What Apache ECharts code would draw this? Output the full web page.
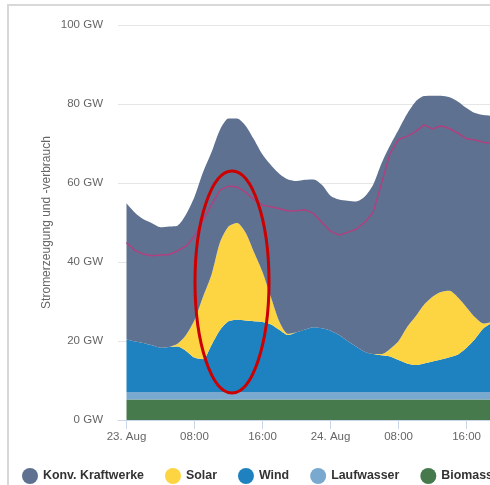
<!DOCTYPE html>
<html>
<head>
<meta charset="utf-8">
<script src="https://cdn.jsdelivr.net/npm/echarts@6/dist/echarts.min.js"></script>
<style>
html,body{margin:0;padding:0;background:#fff;}
#chart{width:490px;height:485px;}
</style>
</head>
<body>
<div id="chart"></div>
<script>
// hours since 23. Aug 00:00
var hours = [0,1,2,3,4,5,6,7,8,9,10,11,12,13,14,15,16,17,18,19,20,21,22,23,24,25,26,27,28,29,30,31,32,33,34,35,36,37,38,39,40,41,42,43];
var biomasse   = [5.2,5.2,5.2,5.2,5.2,5.2,5.2,5.2,5.2,5.2,5.2,5.2,5.2,5.2,5.2,5.2,5.2,5.2,5.2,5.2,5.2,5.2,5.2,5.2,5.2,5.2,5.2,5.2,5.2,5.2,5.2,5.2,5.2,5.2,5.2,5.2,5.2,5.2,5.2,5.2,5.2,5.2,5.2,5.2];
var laufwasser = [1.9,1.9,1.9,1.9,1.9,1.9,1.9,1.9,1.9,1.9,1.9,1.9,1.9,1.9,1.9,1.9,1.9,1.9,1.9,1.9,1.9,1.9,1.9,1.9,1.9,1.9,1.9,1.9,1.9,1.9,1.9,1.9,1.9,1.9,1.9,1.9,1.9,1.9,1.9,1.9,1.9,1.9,1.9,1.9];
var wind  = [13.3,12.8,12.4,11.8,11.2,11.4,11.5,10.4,8.7,8.3,11.9,15.7,17.9,18.3,18.1,17.9,17.7,17.1,15.7,14.4,15.1,15.8,16.4,16.1,15.5,14.4,12.9,11.5,10.2,9.6,9.3,9.0,8.1,7.2,6.8,7.2,7.7,8.2,8.8,9.5,11.2,13.4,16.1,17.5];
var solar = [0,0,0,0,0,0,0.7,4.0,9.5,15.8,17.8,22.2,24.0,24.5,22.3,17.5,12.7,6.8,2.0,0.3,0,0,0,0,0,0,0,0,0,0,0.3,1.9,4.8,9.2,12.3,14.9,16.4,17.1,16.8,14.4,10.2,5.5,1.2,0.2];
var konv  = [34.5,32.6,31.3,30.9,30.5,30.5,29.9,30.5,31.2,31.5,31.0,28.5,27.3,26.4,27.0,28.5,29.7,33.5,37.5,39.1,38.3,37.9,37.4,36.3,34.2,34.3,35.5,36.7,39.2,42.8,48.3,51.5,53.5,54.0,54.4,52.8,50.9,49.7,49.0,49.6,50.5,51.7,52.8,52.2];
var verbrauch = [44.9,42.9,42.0,41.6,41.8,41.9,42.8,44.0,46.5,50.5,54.5,58.2,59.2,59.0,57.7,55.8,54.4,54.0,53.5,52.9,53.0,53.2,52.3,50.0,47.8,46.8,47.5,48.3,50.0,52.5,59.9,67.5,71.0,71.8,73.0,74.7,73.7,74.5,73.8,72.6,71.2,70.9,70.3,70.0];
var tickHours  = [0,8,16,24,32,40];
var tickLabels = ['23. Aug','08:00','16:00','24. Aug','08:00','16:00'];
var yTicks = [0,20,40,60,80,100];

// value first, hour second (encode maps them), so stacking happens on the value
function pairs(arr){ return hours.map(function(h,i){ return [arr[i], h]; }); }

var font = "'Liberation Sans', Arial, sans-serif";
var chart = echarts.init(document.getElementById('chart'), null, {renderer:'canvas'});

function area(name, data, color){
  return {
    name: name, type: 'line', stack: 'gen', data: pairs(data),
    encode: {x: 1, y: 0},
    showSymbol: false, smooth: 0.25, symbol: 'none',
    lineStyle: {width: 0, color: color},
    itemStyle: {color: color},
    areaStyle: {color: color, opacity: 1},
    z: 2
  };
}

chart.setOption({
  animation: false,
  textStyle: {fontFamily: font},
  grid: {left: 118, right: 0, top: 25, bottom: 65, containLabel: false},
  legend: {
    data: ['Konv. Kraftwerke','Solar','Wind','Laufwasser','Biomasse'],
    left: 22, top: 468, width: 900, padding: 0, icon: 'circle',
    itemWidth: 16, itemHeight: 16, itemGap: 21,
    textStyle: {fontFamily: font, fontSize: 12.4, fontWeight: 'bold', color: '#333'}
  },
  xAxis: {
    type: 'value', min: -1, max: 42.76,
    axisLine: {show: true, lineStyle: {color: '#ccd6eb', width: 1}},
    axisTick: {show: true, length: 9, lineStyle: {color: '#ccd6eb'}, customValues: tickHours},
    axisLabel: {
      customValues: tickHours, color: '#666', fontSize: 11.5, margin: 11, fontFamily: font,
      formatter: function(v){ var i = tickHours.indexOf(v); return i >= 0 ? tickLabels[i] : ''; }
    },
    splitLine: {show: false}
  },
  yAxis: {
    type: 'value', min: 0, max: 100, interval: 20,
    name: 'Stromerzeugung und -verbrauch', nameLocation: 'middle', nameGap: 65,
    nameMoveOverlap: false,
    nameTextStyle: {color: '#666', fontSize: 12, fontFamily: font},
    axisLine: {show: false}, axisTick: {show: false},
    axisLabel: {color: '#666', fontSize: 11.5, margin: 15, fontFamily: font,
      formatter: function(v){ return yTicks.indexOf(v) >= 0 ? v + ' GW' : ''; }},
    splitLine: {lineStyle: {color: '#e6e6e6', width: 1}}
  },
  series: [
    area('Biomasse', biomasse, '#467a4d'),
    area('Laufwasser', laufwasser, '#79a9cf'),
    area('Wind', wind, '#1f82c0'),
    area('Solar', solar, '#fdd441'),
    area('Konv. Kraftwerke', konv, '#5f7190'),
    {
      name: 'Stromverbrauch', type: 'line', data: pairs(verbrauch),
      encode: {x: 1, y: 0},
      showSymbol: false, symbol: 'none', smooth: false,
      lineStyle: {color: '#b0407f', width: 1.5}, z: 5
    }
  ],
  graphic: [
    {type: 'rect', shape: {x: 8, y: 5, width: 600, height: 600}, silent: true,
     style: {fill: 'none', stroke: '#d8d8d8', lineWidth: 2}, z: 0},
    {type: 'ellipse', shape: {cx: 232, cy: 282, rx: 37, ry: 111}, silent: true,
     style: {fill: 'none', stroke: '#cc0000', lineWidth: 3}, z: 100}
  ]
});
</script>
</body>
</html>
